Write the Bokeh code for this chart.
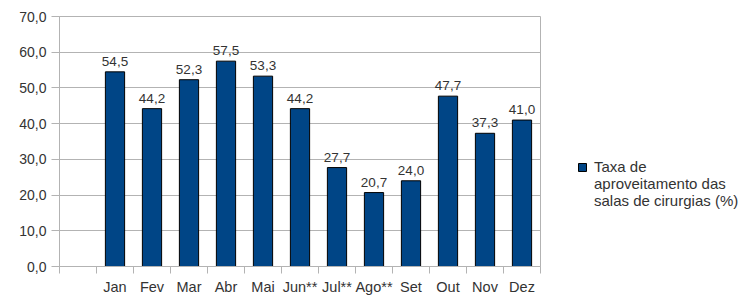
from bokeh.plotting import figure
from bokeh.models import (ColumnDataSource, FactorRange, Range1d, LinearAxis, CategoricalAxis,
                          FixedTicker, Legend, LegendItem)
from bokeh.core.properties import value
from bokeh.embed import file_html
from bokeh.resources import INLINE

# ---- data ----
months = ["Jan", "Fev", "Mar", "Abr", "Mai", "Jun**", "Jul**", "Ago**", "Set", "Out", "Nov", "Dez"]
rates = [54.5, 44.2, 52.3, 57.5, 53.3, 44.2, 27.7, 20.7, 24.0, 47.7, 37.3, 41.0]
series_lines = ["Taxa de", "aproveitamento das", "salas de cirurgias (%)"]
y_ticks = [0, 10, 20, 30, 40, 50, 60, 70]
y_tick_labels = ["0,0", "10,0", "20,0", "30,0", "40,0", "50,0", "60,0", "70,0"]
empty_slot = " "

FONT = "Liberation Sans"
GRID = "#b3b3b3"
TXT = "#333333"

factors = [empty_slot] + months
source = ColumnDataSource(dict(
    month=months,
    rate=rates,
    label=[("%.1f" % v).replace(".", ",") for v in rates],
))

p = figure(frame_width=481, frame_height=250,
           x_range=FactorRange(factors=factors, range_padding=0),
           y_range=Range1d(0, 70), output_backend="svg", toolbar_location=None,
           x_axis_location=None, y_axis_location=None,
           min_border_left=59, min_border_right=204, min_border_top=16, min_border_bottom=30)

bars = p.vbar(x="month", top="rate", width=0.52, source=source,
              fill_color="#004586", line_color="black", line_width=1)
p.text(x="month", y="rate", text="label", source=source, y_offset=-6,
       text_align="center", text_baseline="bottom", text_font=value(FONT),
       text_font_size="13.5px", text_color=TXT)

# y axis
yaxis = LinearAxis(ticker=FixedTicker(ticks=y_ticks),
                   major_label_overrides={t: l for t, l in zip(y_ticks, y_tick_labels)},
                   axis_line_color=GRID, major_tick_line_color=GRID,
                   major_tick_out=8, major_tick_in=0, minor_tick_line_color=None,
                   major_label_standoff=5, major_label_text_font=FONT,
                   major_label_text_font_size="14px", major_label_text_color=TXT)
p.add_layout(yaxis, "left")

# x boundary ticks (synthetic coordinates of the factor range: slot edges)
slot_edges = list(range(len(factors) + 1))
tick_axis = LinearAxis(ticker=FixedTicker(ticks=slot_edges),
                       axis_line_color=GRID, major_tick_line_color=GRID,
                       major_tick_out=7, major_tick_in=0, minor_tick_line_color=None,
                       major_label_text_font_size="0px", major_label_standoff=0,
                       major_label_overrides={i: "" for i in slot_edges})
label_axis = CategoricalAxis(axis_line_color=None, major_tick_line_color=None,
                             major_tick_out=0, major_tick_in=0,
                             major_label_standoff=5, major_label_text_font=FONT,
                             major_label_text_font_size="14.5px", major_label_text_color=TXT)
p.add_layout(tick_axis, "below")
p.add_layout(label_axis, "below")

p.xgrid.visible = False
p.ygrid.ticker = FixedTicker(ticks=y_ticks)
p.ygrid.grid_line_color = GRID
p.outline_line_color = GRID

items = [LegendItem(label=series_lines[0], renderers=[bars])] + \
        [LegendItem(label=t, renderers=[]) for t in series_lines[1:]]
legend = Legend(items=items,
                location=(37, 57), glyph_width=10, glyph_height=10,
                label_height=16, spacing=0,
                label_text_font=FONT, label_text_font_size="15px", label_text_color=TXT,
                border_line_color=None, background_fill_alpha=0, padding=0, margin=0,
                label_standoff=7)
p.add_layout(legend, "right")

open("out.html", "w").write(file_html(p, INLINE))
